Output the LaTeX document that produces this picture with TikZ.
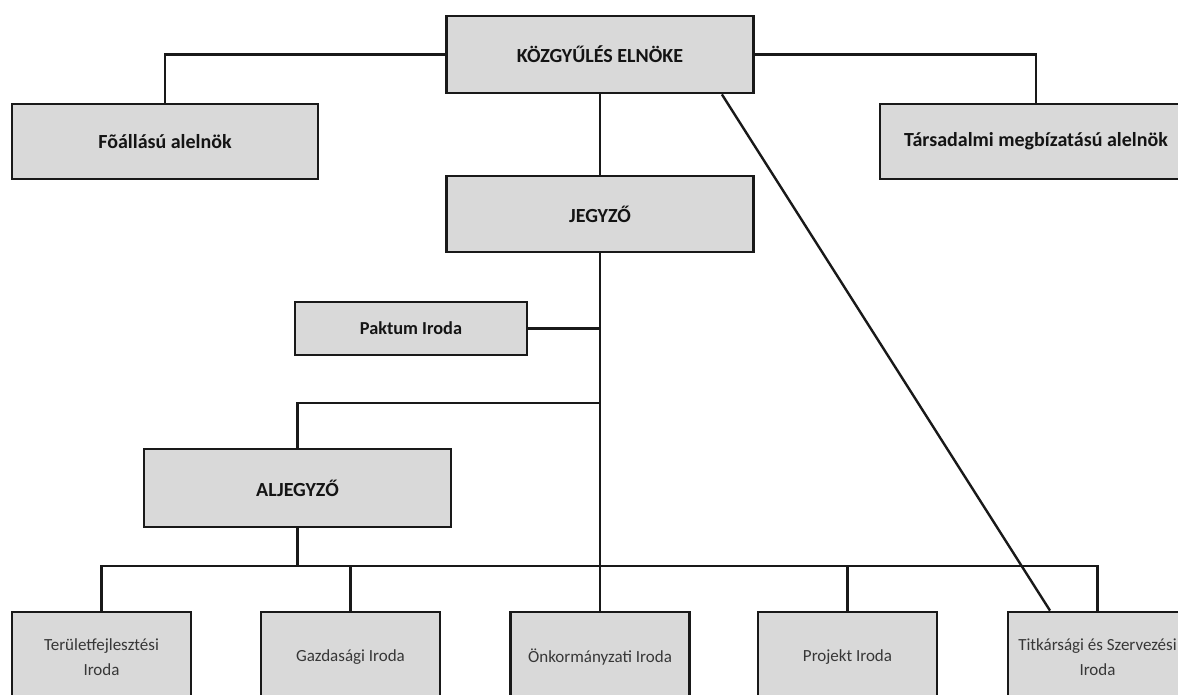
\documentclass[tikz,border=0pt]{standalone}
\usepackage{fontspec}
\setmainfont{Carlito}
\usetikzlibrary{calc}
\definecolor{boxgray}{RGB}{217,217,217}
\definecolor{ink}{RGB}{25,25,25}
\definecolor{txtdark}{RGB}{20,20,20}
\definecolor{txtsoft}{RGB}{55,55,55}
\tikzset{
  orgbox/.style={draw=ink, line width=2.8pt, fill=boxgray, inner sep=0pt, align=center, text=txtdark},
  bigbox/.style={orgbox, minimum width=307, minimum height=77, font=\fontsize{20}{23}\selectfont\bfseries},
  sidebox/.style={orgbox, minimum width=306, minimum height=75, font=\fontsize{20}{23}\selectfont\bfseries},
  pakbox/.style={orgbox, minimum width=232, minimum height=53, font=\fontsize{18.3}{21}\selectfont\bfseries},
  officebox/.style={orgbox, minimum width=179, minimum height=90, text=txtsoft, font=\fontsize{17}{25}\selectfont},
  conn/.style={draw=ink, line width=2.4pt}
}
\begin{document}
\begin{tikzpicture}[x=1pt, y=-1pt]
\useasboundingbox (0,0) rectangle (1178,695);
\clip (0,0) rectangle (1178,695);
\fill[white] (0,0) rectangle (1178,695);

\node[bigbox] (elnok) at (600,54.5) {KÖZGYŰLÉS ELNÖKE};
\node[sidebox] (fo) at (165,141.5) {Fõállású alelnök};
\node[sidebox, minimum width=312] (tars) at (1036,141.5) {Társadalmi megbízatású alelnök};
\node[bigbox, minimum height=76] (jegyzo) at (600,214) {JEGYZŐ};
\node[pakbox] (paktum) at (411,328.5) {Paktum Iroda};
\node[bigbox, minimum height=78] (aljegyzo) at (297.5,488) {ALJEGYZŐ};

\node[officebox] (terulet) at (101.5,657) {Területfejlesztési\\Iroda};
\node[officebox] (gazd) at (350.5,657) {Gazdasági Iroda};
\node[officebox] (onk) at (600,657) {Önkormányzati Iroda};
\node[officebox] (proj) at (847.5,657) {Projekt Iroda};
\node[officebox] (titk) at (1097.5,657) {Titkársági és Szervezési\\Iroda};

\coordinate (bus) at (0,566);
\coordinate (albus) at (0,403);

\draw[conn] (elnok.west) -| (fo.north);
\draw[conn] (elnok.east) -| (tars.north);
\draw[conn] (elnok.south) -- (jegyzo.north);
\draw[conn] (jegyzo.south) -- (onk.north);
\draw[conn] (paktum.east) -- (paktum.east -| jegyzo.south);
\draw[conn] (jegyzo.south |- albus) -| (aljegyzo.north);
\draw[conn] (aljegyzo.south) -- (aljegyzo.south |- bus);
\draw[conn] (terulet.north) -- (terulet.north |- bus) -- (titk.north |- bus) -- (titk.north);
\draw[conn] (gazd.north) -- (gazd.north |- bus);
\draw[conn] (proj.north) -- (proj.north |- bus);
\draw[conn] ($(elnok.south east)+(-33,0)$) -- ($(titk.north)+(-47.5,0)$);
\end{tikzpicture}
\end{document}
